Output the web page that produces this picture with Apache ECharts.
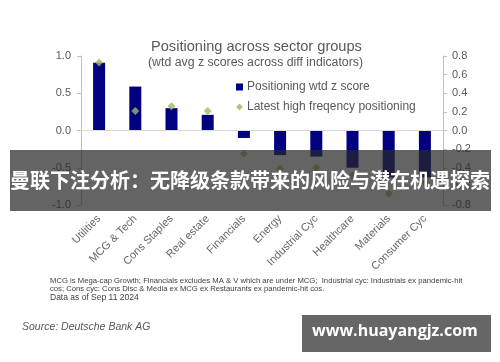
<!DOCTYPE html>
<html>
<head>
<meta charset="utf-8">
<script src="https://cdn.jsdelivr.net/npm/echarts@6/dist/echarts.min.js"></script>
<style>
html,body{margin:0;padding:0;background:#fff;}
#c{width:500px;height:362px;}
</style>
</head>
<body>
<div id="c"></div>
<script>
var categories = ['Utilities','MCG & Tech','Cons Staples','Real estate','Financials','Energy','Industrial Cyc','Healthcare','Materials','Consumer Cyc'];
var positioningZ = [0.91, 0.59, 0.30, 0.21, -0.10, -0.33, -0.35, -0.50, -0.63, -0.63];
var latestHighFreq = [0.73, 0.21, 0.26, 0.21, -0.25, -0.41, -0.40, -0.48, -0.68, -0.56];
var leftTicks = {min: -1, max: 1, interval: 0.5};
var rightTicks = {min: -0.8, max: 0.8, interval: 0.2};
var seriesNames = ['Positioning wtd z score', 'Latest high freqency positioning'];
var titleText = 'Positioning across sector groups';
var subtitleText = '(wtd avg z scores across diff indicators)';
var footLines = [
  'MCG is Mega-cap Growth; Financials excludes MA & V which are under MCG;  Industrial cyc: Industrials ex pandemic-hit',
  'cos; Cons cyc: Cons Disc & Media ex MCG ex Restaurants ex pandemic-hit cos.',
  'Data as of Sep 11 2024'
];
var sourceText = 'Source: Deutsche Bank AG';
var bannerText = '曼联下注分析：无降级条款带来的风险与潜在机遇探索';
var watermarkText = 'www.huayangjz.com';

var FONT = '"Liberation Sans", Arial, sans-serif';
var GREY = '#595959';
var chart = echarts.init(document.getElementById('c'), null, {renderer: 'canvas'});

var option = {
  animation: false,
  backgroundColor: '#fff',
  textStyle: {fontFamily: FONT},
  grid: {left: 81, right: 57, top: 56, bottom: 157},
  legend: {
    orient: 'vertical',
    left: 236,
    top: 80,
    padding: 0,
    itemWidth: 7,
    itemHeight: 7,
    itemGap: 6,
    textStyle: {color: GREY, fontSize: 12, fontFamily: FONT, padding: [0, 0, 0, -1], lineHeight: 14},
    data: [
      {name: seriesNames[0], icon: 'rect'},
      {name: seriesNames[1], icon: 'diamond'}
    ]
  },
  xAxis: {
    type: 'category',
    data: categories,
    boundaryGap: true,
    axisLine: {show: false, onZero: false},
    axisTick: {show: false},
    axisLabel: {rotate: 45, color: '#666', fontSize: 11, margin: 12, fontFamily: FONT, interval: 0}
  },
  yAxis: [
    {
      type: 'value', position: 'left',
      min: leftTicks.min, max: leftTicks.max, interval: leftTicks.interval,
      axisLine: {show: true, lineStyle: {color: '#bfbfbf'}},
      axisTick: {show: true, length: 4, lineStyle: {color: '#bfbfbf'}},
      splitLine: {show: false},
      axisLabel: {color: GREY, fontSize: 11, margin: 10, fontFamily: FONT,
        formatter: function (v) { return v.toFixed(1); }}
    },
    {
      type: 'value', position: 'right',
      min: rightTicks.min, max: rightTicks.max, interval: rightTicks.interval,
      axisLine: {show: true, lineStyle: {color: '#bfbfbf'}},
      axisTick: {show: true, length: 4, lineStyle: {color: '#bfbfbf'}},
      splitLine: {show: false},
      axisLabel: {color: GREY, fontSize: 11, margin: 9, fontFamily: FONT,
        formatter: function (v) { return (Math.abs(v) < 1e-9 ? 0 : v).toFixed(1); }}
    }
  ],
  series: [
    {
      name: seriesNames[0],
      type: 'bar',
      yAxisIndex: 0,
      data: positioningZ,
      barWidth: 12,
      itemStyle: {color: '#000080'},
      markLine: {
        silent: true, symbol: 'none', label: {show: false},
        lineStyle: {color: '#d9d9d9', width: 1, type: 'solid'},
        data: [{yAxis: 0}]
      },
      z: 2
    },
    {
      name: seriesNames[1],
      type: 'scatter',
      yAxisIndex: 1,
      data: latestHighFreq,
      symbol: 'diamond',
      symbolSize: 8,
      itemStyle: {color: '#9bbb59'},
      z: 3
    }
  ],
  graphic: [
    {type: 'text', left: 151, top: 39, z: 50,
      style: {text: titleText, fill: GREY, font: '14.6px ' + FONT}},
    {type: 'text', left: 148, top: 57, z: 50,
      style: {text: subtitleText, fill: GREY, font: '12.3px ' + FONT}},
    {type: 'text', left: 50, top: 277, z: 50,
      style: {text: footLines[0], fill: '#404040', font: '7.7px ' + FONT}},
    {type: 'text', left: 50, top: 285, z: 50,
      style: {text: footLines[1], fill: '#404040', font: '7.7px ' + FONT}},
    {type: 'text', left: 50, top: 293, z: 50,
      style: {text: footLines[2], fill: '#404040', font: '8.5px ' + FONT}},
    {type: 'text', left: 22, top: 322, z: 50,
      style: {text: sourceText, fill: GREY, font: 'italic 10.5px ' + FONT}},
    {type: 'rect', left: 10, top: 150, z: 100,
      shape: {width: 481, height: 61},
      style: {fill: 'rgba(40,40,40,0.72)'}},
    {type: 'text', left: 'center', top: 170, z: 101,
      style: {text: bannerText, fill: '#fff', font: 'bold 20px "Noto Sans CJK SC", sans-serif'}},
    {type: 'rect', left: 302, top: 315, z: 100,
      shape: {width: 189, height: 37},
      style: {fill: '#666666'}},
    {type: 'text', left: 312, top: 323, z: 101,
      style: {text: watermarkText, fill: '#fff', font: 'bold 16px "Open Sans", "DejaVu Sans", sans-serif'}}
  ]
};
chart.setOption(option);
</script>
</body>
</html>
